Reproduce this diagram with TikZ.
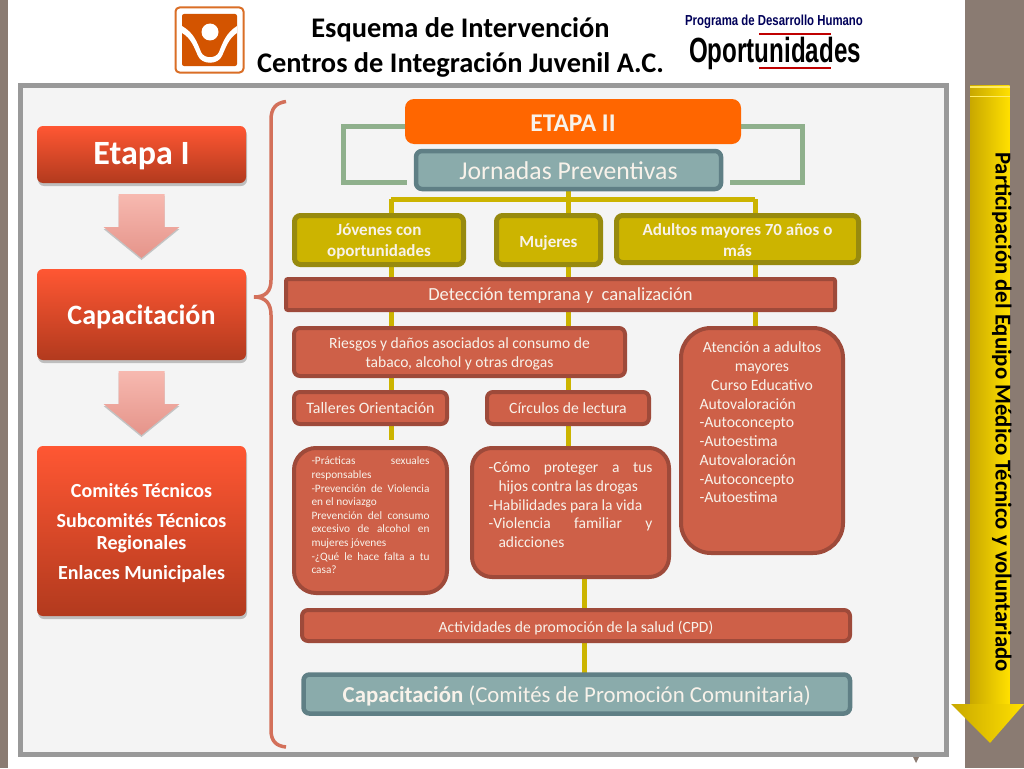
\documentclass[tikz,border=0pt]{standalone}
\usepackage{fontspec}
\usepackage{graphicx}
\setmainfont{Carlito}
\newfontfamily\arialf{Liberation Sans}
\usetikzlibrary{shadows,calc}
\definecolor{band}{HTML}{8A7B72}
\definecolor{panelf}{HTML}{F4F4F4}
\definecolor{panelb}{HTML}{999999}
\definecolor{redf}{HTML}{CE6048}
\definecolor{redb}{HTML}{9E4A3A}
\definecolor{yelf}{HTML}{CCB400}
\definecolor{yelb}{HTML}{978A0E}
\definecolor{tealf}{HTML}{8AABAB}
\definecolor{tealb}{HTML}{5F7F85}
\definecolor{grn}{HTML}{8FB08C}
\definecolor{orf}{HTML}{FF6600}
\definecolor{logoo}{HTML}{D35400}
\definecolor{txtw}{HTML}{F8F2EA}
\definecolor{HeadRed}{HTML}{FF5733}
\definecolor{HeadDark}{HTML}{B23A1E}
\definecolor{PinkA}{HTML}{F7B9B0}
\definecolor{PinkB}{HTML}{E5948A}
\definecolor{YelA}{HTML}{C9A800}
\definecolor{YelB}{HTML}{FFE000}
\pgfdeclarelayer{bg}\pgfdeclarelayer{edges}
\pgfsetlayers{bg,edges,main}
\newcommand{\fs}[1]{\fontsize{#1}{#1}\selectfont}
\newcommand{\dn}[2]{\raisebox{-#1}[\height][\depth]{#2}}
\newcommand{\bx}[7][]{%
  \pgfmathsetmacro{\bxw}{#5-#3}\pgfmathsetmacro{\bxh}{#6-#4}%
  \pgfmathsetmacro{\bxx}{(#5+#3)/2}\pgfmathsetmacro{\bxy}{(#6+#4)/2}%
  \node[#1,minimum width=\bxw pt,minimum height=\bxh pt,inner sep=0pt,outer sep=0pt] (#2) at (\bxx,\bxy) {#7};}
\newcommand{\jl}[2]{\makebox[#1][s]{#2}\\}
\newcommand{\pinkar}[1]{%
  \shade[shift={(#1.south)},top color=PinkA,bottom color=PinkB,drop shadow={opacity=.2,shadow xshift=0pt,shadow yshift=-2pt,fill=black}]
   (-23,11) -- (23,11) -- (23,44) -- (38,44) -- (0,75) -- (-38,44) -- (-23,44) -- cycle;}
\tikzset{
  softshadow/.style={drop shadow={opacity=.22,shadow xshift=1pt,shadow yshift=-3pt,fill=black}},
  etapabox/.style={rounded corners=6pt,top color=HeadRed,middle color=HeadRed!95!black,bottom color=HeadDark,softshadow,align=center,text=white},
  redbox/.style={draw=redb,line width=4pt,fill=redf,rounded corners=#1,align=center,text=txtw},
  redbox/.default=6pt,
  redsq/.style={draw=redb,line width=4pt,fill=redf,rounded corners=2pt,align=center,text=txtw},
  yelbox/.style={draw=yelb,line width=5pt,fill=yelf,rounded corners=6pt,align=center,text=txtw,font=\bfseries\fs{17}},
  tealbox/.style={draw=tealb,line width=4.5pt,fill=tealf,rounded corners=6pt,align=center,text=txtw},
  yedge/.style={draw=yelf,line width=5pt},
  gedge/.style={draw=grn,line width=5pt},
  gshade/.style={draw=black!18,line width=5pt,shift={(1,3)}},
}
\begin{document}
\begin{tikzpicture}[x=1pt,y=-1pt]
\useasboundingbox (0,0) rectangle (1024,768);
\begin{pgfonlayer}{bg}
\fill[white] (0,0) rectangle (1024,768);
\fill[band] (0,0) rectangle (8,768);
\fill[band] (964.5,0) rectangle (1024,768);
\fill[panelf,draw=panelb,line width=4.5pt] (20.5,85.5) rectangle (946.5,754.5);
\fill[band] (913,757) -- (919,757) -- (916,763) -- cycle;
% yellow side arrow
\shade[left color=YelA,right color=YelB] (970,85) rectangle (1009.5,705);
\shade[left color=YelA,right color=YelB] (951,704) -- (1024,704) -- (990,743) -- cycle;
\fill[YelB!60!white] (970,86) rectangle (1009.5,88);
\fill[YelB!60!white] (970,95.5) rectangle (1009.5,97);
\end{pgfonlayer}

% logo
\draw[draw=logoo!85!white,fill=white,line width=2pt,rounded corners=4pt] (175.5,7.5) rectangle (243.5,72.5);
\fill[logoo,rounded corners=2pt] (182,14) rectangle (237,66);
\fill[white] (182,26) .. controls (194,33) and (197,42) .. (201,52) .. controls (204,59) and (216,59) .. (219,52) .. controls (223,42) and (226,33) .. (237,26)
  -- (237,33) .. controls (229,38) and (226,47) .. (222,56) .. controls (218,65) and (202,65) .. (198,56) .. controls (194,47) and (191,38) .. (182,33) -- cycle;
\fill[white] (210,32) circle (8.5);

% titles
\node[font=\bfseries\fs{28.4},align=center,inner sep=0pt] (title) at (460.5,47.5) {Esquema de Intervención\\[6.6pt]Centros de Integración Juvenil A.C.};
\node[font=\arialf\bfseries\fs{14.5},text=blue!35!black,inner sep=0pt] (prog) at (774,21.5) {\scalebox{0.785}[1]{Programa de Desarrollo Humano}};
\node[font=\arialf\bfseries\fs{35},text=black,inner sep=0pt] (opor) at (775,53) {\scalebox{0.69}[1]{Oportunidades}};
\fill[red!75!black] (759,33.5) rectangle (831,35.5);
\fill[red!75!black] (759,66.5) rectangle (831,68.5);

% left column
\bx[etapabox,font=\bfseries\fs{34}]{etapa}{37}{126}{246}{183}{\dn{2pt}{Etapa I}}
\bx[etapabox,font=\bfseries\fs{28}]{cap}{37}{269}{246}{360}{\dn{2pt}{Capacitación}}
\bx[etapabox,font=\bfseries\fs{20}]{comites}{37}{446}{246}{616}{\dn{2pt}{\parbox{200pt}{\centering\baselineskip=22pt Comités Técnicos\\[8pt]Subcomités Técnicos\\Regionales\\[8pt]Enlaces Municipales}}}
\pinkar{etapa}
\pinkar{cap}

% brace
\draw[draw=redf!90!white,line width=3.5pt] (286,101.5) .. controls (276,103) and (271,108) .. (271,120) -- (271,280) .. controls (271,292) and (265,297) .. (254,297) .. controls (265,297) and (271,303) .. (271,315) -- (271,730) .. controls (271,741) and (276,746) .. (286,747);

% etapa II
\bx[fill=orf,rounded corners=9pt,text=txtw,font=\bfseries\fs{25.5}]{etapa2}{405}{99}{741}{144}{\dn{2pt}{ETAPA II}}
\bx[tealbox,font=\fs{25.7}]{jornadas}{416}{151}{721}{189}{\dn{1pt}{Jornadas Preventivas}}

% yellow row
\bx[yelbox]{jov}{294.5}{215.5}{463.5}{264.5}{\dn{1pt}{\parbox{160pt}{\centering Jóvenes con\\[4pt]oportunidades}}}
\bx[yelbox]{muj}{496.5}{215.5}{600.5}{264.5}{\dn{2.5pt}{Mujeres}}
\bx[yelbox]{adu}{616.5}{215.5}{858.5}{262.5}{\dn{1pt}{\parbox{235pt}{\centering Adultos mayores 70 años o\\[4pt]más}}}

% red boxes
\bx[redsq,font=\fs{18.5}]{det}{286}{279}{835}{310}{\dn{1pt}{Detección temprana y\ \ canalización}}
\bx[redbox,font=\fs{15.6}]{rie}{294}{328}{625}{376}{\dn{2pt}{\parbox{320pt}{\centering Riesgos y daños asociados al consumo de\\[3.4pt]tabaco, alcohol y otras drogas}}}
\bx[redbox=30pt]{ate}{681}{328}{843}{553}{\parbox[c][225pt][t]{125pt}{\vspace*{14pt}\fs{15.7}\baselineskip=18.75pt\lineskip=0pt
\makebox[125pt][c]{Atención a adultos}\\
\makebox[125pt][c]{mayores}\\
\makebox[125pt][c]{Curso Educativo}\\
Autovaloración\\
-Autoconcepto\\
-Autoestima\\
Autovaloración\\
-Autoconcepto\\
-Autoestima}}
\bx[redbox,font=\fs{15.9}]{tal}{294}{392}{447}{424}{Talleres Orientación}
\bx[redbox,font=\fs{15.7}]{cir}{487}{392}{649}{424}{Círculos de lectura}
\bx[redbox=22pt]{prac}{294}{448}{447}{593}{\parbox[c][145pt][t]{118pt}{\vspace*{9pt}\fs{11.3}\baselineskip=13.6pt\lineskip=0pt
\jl{118pt}{-Prácticas sexuales}
responsables\\
\jl{118pt}{-Prevención de Violencia}
en el noviazgo\\
\jl{118pt}{Prevención del consumo}
\jl{118pt}{excesivo de alcohol en}
mujeres jóvenes\\
\jl{118pt}{-¿Qué le hace falta a tu}
casa?}}
\bx[redbox=20pt]{como}{472}{448}{669}{577}{\parbox[c][129pt][t]{164pt}{\vspace*{14pt}\fs{15.5}\baselineskip=18.8pt\lineskip=0pt
\jl{164pt}{-Cómo proteger a tus}
\hspace*{10pt}hijos contra las drogas\\
-Habilidades para la vida\\
\jl{164pt}{-Violencia familiar y}
\hspace*{10pt}adicciones}}
\bx[redbox,font=\fs{15.6}]{act}{302}{610}{850}{641}{\dn{3pt}{Actividades de promoción de la salud (CPD)}}
\bx[tealbox,font=\fs{22.8}]{capc}{303.5}{674.5}{850}{713.5}{\dn{2pt}{\textbf{Capacitación} (Comités de Promoción Comunitaria)}}

% side text
\node[rotate=-90,font=\bfseries\fs{22.75},text=black,inner sep=0pt,anchor=base] (side) at (995.5,412) {Participación del Equipo Médico Técnico y voluntariado};

% connectors
\coordinate (yleft) at (391,199);
\coordinate (yright) at (755,199);
\coordinate (ymid) at (568.5,199);
\coordinate (talend) at (391,440);
\coordinate (talstart) at (391,425);
\coordinate (cirend) at (568,447);
\coordinate (cirstart) at (568,425);
\coordinate (comoout) at (584,577);
\coordinate (gl1) at (343,126);
\coordinate (gl2) at (343,182);
\coordinate (gl3) at (407,182);
\coordinate (gr1) at (802,126);
\coordinate (gr2) at (802,182);
\coordinate (gr3) at (730,182);
\begin{pgfonlayer}{edges}
\draw[yedge] (jornadas.south) -- (ymid);
\draw[yedge,line cap=square] (yleft) -- (yright);
\draw[yedge] (yleft) -- (yleft |- rie.north);
\draw[yedge] (yleft |- rie.south) -- (yleft |- tal.north);
\draw[yedge] (ymid) -- (ymid |- cir.north);
\draw[yedge] (yright) -- (yright |- ate.north);
\draw[yedge] (talstart) -- (talend);
\draw[yedge] (cirstart) -- (cirend);
\draw[yedge] (comoout) -- (comoout |- act.north);
\draw[yedge] (comoout |- act.south) -- (comoout |- capc.north);
\draw[gshade] (gl1) -- (gl2) -- (gl3);
\draw[gshade] (gr1) -- (gr2) -- (gr3);
\draw[gedge] (etapa2.west |- gl1) -- (gl1) -- (gl2) -- (gl3);
\draw[gedge] (etapa2.east |- gr1) -- (gr1) -- (gr2) -- (gr3);
\end{pgfonlayer}
\end{tikzpicture}
\end{document}
